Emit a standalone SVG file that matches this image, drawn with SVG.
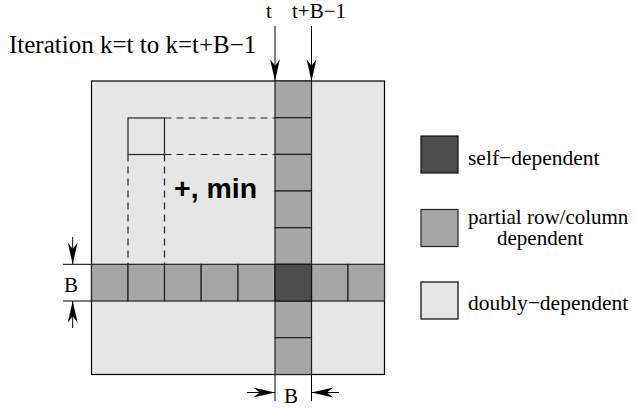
<svg xmlns="http://www.w3.org/2000/svg" width="636" height="410" viewBox="0 0 636 410">
<defs>
<style>
.serif{font-family:"Liberation Serif","Times New Roman",serif;fill:#000}
.bold{font-family:"Liberation Sans",Arial,sans-serif;font-weight:bold;fill:#000}
.light{fill:#e6e6e6;stroke:#000;stroke-width:1.2}
.mid{fill:#a6a6a6;stroke:#222;stroke-width:1.2}
.dark{fill:#4d4d4d;stroke:#111;stroke-width:1.2}
.line{stroke:#000;stroke-width:1;fill:none}
.dash{stroke:#222;stroke-width:1.2;fill:none;stroke-dasharray:7 5}
.arr{stroke:#000;stroke-width:1;fill:none;marker-end:url(#ah)}
</style>
<marker id="ah" markerUnits="userSpaceOnUse" markerWidth="24" markerHeight="12" viewBox="-21 -5 22 10" refX="0" refY="0" orient="auto">
<path d="M0,0 L-20,-4.5 L-14,0 L-20,4.5 Z" fill="#000"/>
</marker>
</defs>

<g id="matrix">
<rect class="light" x="91.5" y="81" width="293" height="293.5"/>
</g>

<g id="dashed-region">
<rect x="128" y="118" width="36.5" height="36.5" fill="none" stroke="#222" stroke-width="1.2"/>
<path class="dash" d="M164.5,118 H275 M164.5,154.5 H275 M128,154.5 V264 M164.5,154.5 V264"/>
</g>

<g id="column">
<rect class="mid" x="275" y="81" width="36.5" height="36.7"/>
<rect class="mid" x="275" y="117.7" width="36.5" height="36.7"/>
<rect class="mid" x="275" y="154.4" width="36.5" height="36.6"/>
<rect class="mid" x="275" y="191" width="36.5" height="36.7"/>
<rect class="mid" x="275" y="227.7" width="36.5" height="36.6"/>
<rect class="mid" x="275" y="301" width="36.5" height="36.7"/>
<rect class="mid" x="275" y="337.7" width="36.5" height="36.8"/>
</g>

<g id="row">
<rect class="mid" x="91.5" y="264.3" width="36.5" height="36.7"/>
<rect class="mid" x="128" y="264.3" width="36.5" height="36.7"/>
<rect class="mid" x="164.5" y="264.3" width="36.7" height="36.7"/>
<rect class="mid" x="201.2" y="264.3" width="36.8" height="36.7"/>
<rect class="mid" x="238" y="264.3" width="37" height="36.7"/>
<rect class="mid" x="311.5" y="264.3" width="36.5" height="36.7"/>
<rect class="mid" x="348" y="264.3" width="36.5" height="36.7"/>
</g>

<g id="self-block">
<rect class="dark" x="275" y="264.3" width="36.5" height="36.7"/>
</g>

<g id="op-label">
<text class="bold" x="174" y="198" font-size="28.5">+, min</text>
</g>

<g id="title">
<text class="serif" x="9" y="53" font-size="25">Iteration k=t to k=t+B−1</text>
<text class="serif" x="266" y="18" font-size="21">t</text>
<text class="serif" x="292" y="18" font-size="21">t+B−1</text>
</g>

<g id="connectors">
<line class="arr" x1="275" y1="26" x2="275" y2="81"/>
<line class="arr" x1="311.5" y1="26" x2="311.5" y2="81"/>
<path class="line" d="M63,264.3 H91.5 M63,301 H91.5"/>
<line class="arr" x1="72.7" y1="237" x2="72.7" y2="264.3"/>
<line class="arr" x1="72.7" y1="328" x2="72.7" y2="301"/>
<path class="line" d="M275,374.5 V401 M311.5,374.5 V401"/>
<line class="arr" x1="247" y1="392.5" x2="275" y2="392.5"/>
<line class="arr" x1="339" y1="392.5" x2="311.5" y2="392.5"/>
</g>

<g id="dim-labels">
<text class="serif" x="64" y="292" font-size="21">B</text>
<text class="serif" x="284" y="403" font-size="21">B</text>
</g>

<g id="legend-self">
<rect class="dark" x="421" y="136" width="37" height="37"/>
<text class="serif" x="468" y="165" font-size="21.5">self−dependent</text>
</g>
<g id="legend-partial">
<rect class="mid" x="421" y="209.5" width="37" height="37"/>
<text class="serif" x="468" y="224" font-size="21">partial row/column</text>
<text class="serif" x="497" y="244.5" font-size="21">dependent</text>
</g>
<g id="legend-doubly">
<rect class="light" x="421" y="282" width="37" height="37"/>
<text class="serif" x="468" y="310" font-size="21.5">doubly−dependent</text>
</g>
</svg>
